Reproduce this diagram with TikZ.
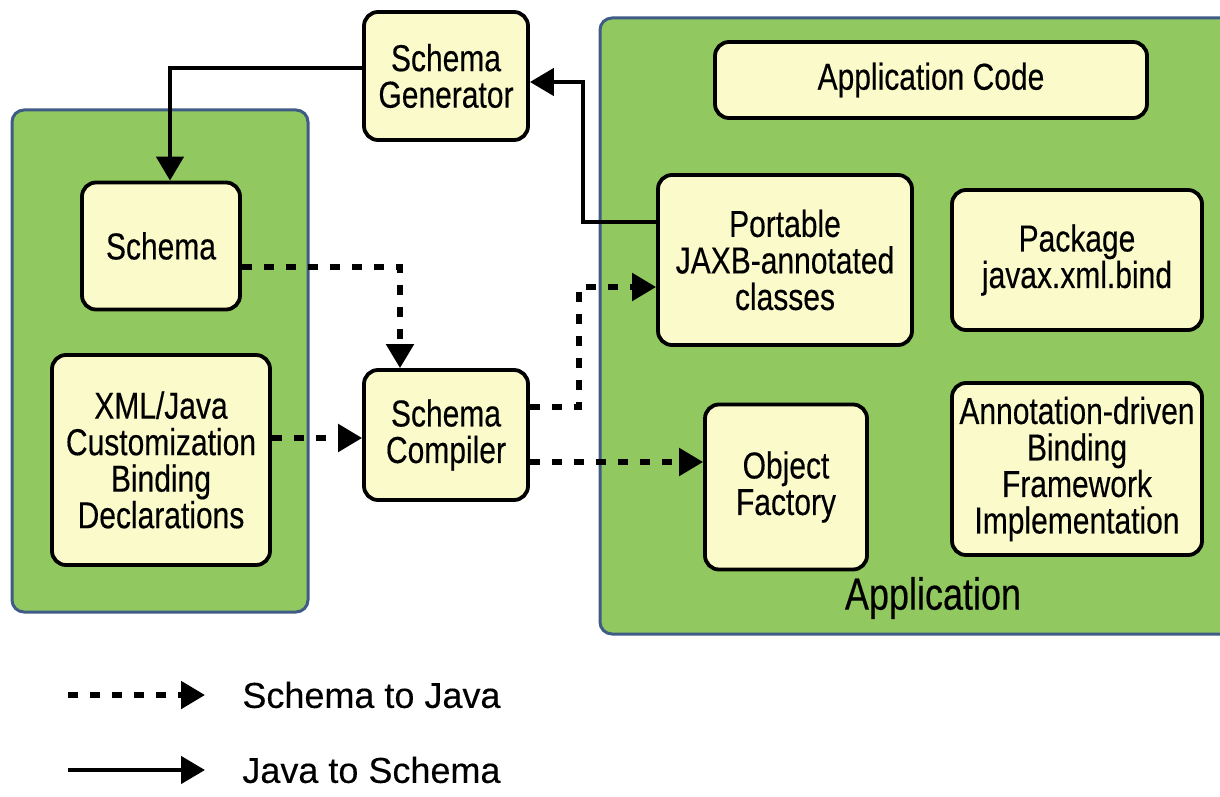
\documentclass[tikz,border=0pt]{standalone}
\usepackage{fontspec}
\setmainfont{Liberation Sans}[FakeBold=0.25]
\newfontfamily\tallsans{Liberation Sans}[FakeStretch=0.8,FakeBold=0.3]
\usetikzlibrary{arrows.meta,positioning}

\definecolor{appgreen}{RGB}{146,200,96}
\definecolor{boxyellow}{RGB}{250,250,202}
\definecolor{edgeblue}{RGB}{62,92,134}

\begin{document}
\begin{tikzpicture}[x=0.5pt,y=-0.5pt]
\tikzstyle{container}=[draw=edgeblue, fill=appgreen, line width=1.5pt,
	rounded corners=6pt]
\tikzstyle{block}=[draw=black, fill=boxyellow, line width=1.9pt,
	rounded corners=7pt, align=center, inner sep=2pt,
	font=\tallsans\fontsize{18.75}{18.25}\selectfont]
\tikzstyle{s2j}=[line width=2.6pt, dash pattern=on 5pt off 6pt,
	-{Triangle[length=12pt,width=13.5pt]}]
\tikzstyle{j2s}=[line width=2.3pt, -{Triangle[length=12pt,width=13.5pt]}]
\clip (0,0) rectangle (1220,797);
\fill[white] (0,0) rectangle (1220,797);
% containers
\draw[container] (12,110) rectangle (308,612);
\draw[container] (600,18) rectangle (1240,634);
\node[font=\tallsans\fontsize{22.5}{24}\selectfont] (applbl) at (933,598) {Application};
% blocks
\node[block,minimum width=82pt,minimum height=64pt] (gen) at (446,76) {Schema\\Generator};
\node[block,minimum width=79pt,minimum height=63.5pt] (schema) at (161,246) {Schema};
\node[block,minimum width=109pt,minimum height=105pt] (xml) at (161,460) {XML/Java\\Customization\\Binding\\Declarations};
\node[block,minimum width=82pt,minimum height=65pt] (comp) at (446,435) {Schema\\Compiler};
\node[block,minimum width=216pt,minimum height=38pt] (code) at (931,80) {Application Code};
\node[block,minimum width=127pt,minimum height=85pt] (port) at (785,260) {Portable\\JAXB-annotated\\classes};
\node[block,minimum width=125pt,minimum height=70pt] (pkg) at (1077,260) {Package\\javax.xml.bind};
\node[block,minimum width=81pt,minimum height=82.5pt] (obj) at (786,487) {Object\\Factory};
\node[block,minimum width=125pt,minimum height=86pt] (impl) at (1077,469) {Annotation-driven\\Binding\\Framework\\Implementation};
% java to schema
\draw[j2s] ([yshift=19pt]port.west) -- ++(-36.5pt,0) |- ([yshift=-3pt]gen.east);
\draw[j2s] ([yshift=4pt]gen.west) -| ([xshift=4.5pt]schema.north);
% schema to java
\draw[s2j] ([yshift=-10.5pt]schema.east) -| ([xshift=-23pt]comp.north);
\draw[s2j] ([yshift=11pt]xml.east) -- ([yshift=11pt]xml.east -| comp.west);
\draw[s2j] ([yshift=14pt]comp.east) -- ++(24.5pt,0) |- ([yshift=-13.5pt]port.west);
\draw[s2j] ([yshift=-13.5pt]comp.east) -- ([yshift=-13.5pt]comp.east -| obj.west);
% legend
\coordinate (ls1) at (68,695);
\coordinate (ls2) at (205,695);
\coordinate (lj1) at (68,770);
\coordinate (lj2) at (205,770);
\draw[s2j] (ls1) -- (ls2);
\draw[j2s] (lj1) -- (lj2);
\node[anchor=west,inner sep=0pt,font=\fontsize{18}{22}\selectfont] (lsj) at (242,695) {Schema to Java};
\node[anchor=west,inner sep=0pt,font=\fontsize{18}{22}\selectfont] (ljs) at (242,770) {Java to Schema};
\end{tikzpicture}
\end{document}
